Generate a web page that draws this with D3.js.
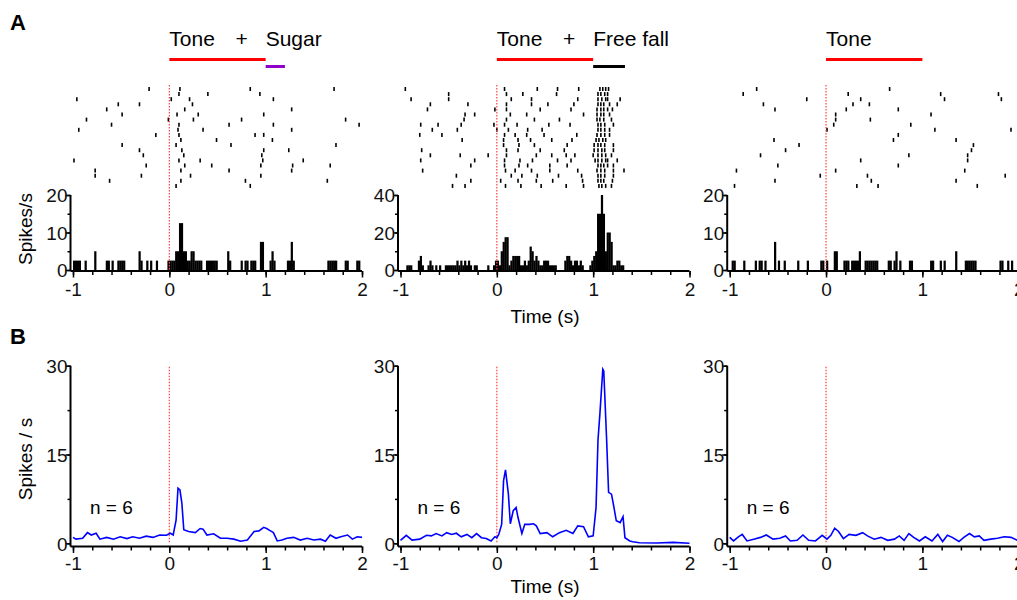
<!DOCTYPE html>
<html>
<head>
<meta charset="utf-8">
<script src="https://cdn.jsdelivr.net/npm/d3@7"></script>
<style>
  body { margin: 0; background: #fff; }
  text { font-family: Arial, "Liberation Sans", sans-serif; }
</style>
</head>
<body>
<div id="chart"></div>
<script>
// ---- data ----
var timeTicks = [-1, 0, 1, 2];
var histTicks = [[0, 10, 20], [0, 20, 40], [0, 10, 20]];
var psthTicks = [0, 15, 30];
var stimLabels = [["Tone", "+", "Sugar"], ["Tone", "+", "Free fall"], ["Tone"]];
var toneSpan = [0, 1];
var sugarSpan = [1, 1.2];
var fallSpan = [1, 1.33];
var nCells = [6, 6, 6];
var binWidth = 0.02; // s

// spike times (s) per trial, 20 trials each
var rasterSugar = [
  [-0.21, 0.11, 0.84, 1.71],
  [0.10, 0.40, 0.94],
  [-0.96, 0.02, 0.21, 1.08],
  [-0.53, -0.31, 0.24],
  [-0.65, 0.16, 1.27],
  [-0.49, 0.08, 0.30, 0.98],
  [-0.86, -0.01, 0.25, 0.75, 1.83],
  [-0.60, 0.10, 0.62, 1.08, 1.97],
  [-0.94, 0.09, 0.35, 1.27],
  [-0.14, 0.10, 0.89, 0.98],
  [0.12, 0.49, 1.07],
  [-0.49, 0.07, 0.64, 1.73],
  [-0.31, 0.13, 0.98, 1.24],
  [-0.27, 0.15, 0.96],
  [-0.99, 0.10, 0.32, 0.97, 1.39],
  [-0.24, 0.16, 0.44, 0.95, 1.28, 1.67],
  [-0.77, 0.12, 0.62, 1.27],
  [-0.77, -0.29, 0.22, 0.95],
  [-0.62, 0.12, 0.79, 1.64],
  [0.07, 0.84]
];
var rasterFall = [
  [-0.95, 0.08, 0.42, 0.63, 0.85, 1.07, 1.10, 1.13, 1.16],
  [-0.50, 0.10, 0.27, 0.62, 1.05, 1.08, 1.12, 1.15],
  [-0.89, -0.50, 0.15, 0.36, 0.84, 1.05, 1.09, 1.13, 1.15, 1.28],
  [-0.69, -0.30, 0.10, 0.36, 0.53, 0.80, 1.05, 1.08, 1.11, 1.17, 1.25],
  [-0.72, -0.02, 0.10, 0.45, 0.77, 1.04, 1.08, 1.11, 1.15, 1.20],
  [-0.33, -0.23, 0.14, 0.31, 0.90, 1.04, 1.08, 1.11, 1.17],
  [-0.34, 0.10, 0.39, 0.65, 1.04, 1.07, 1.11, 1.19],
  [-0.79, -0.61, -0.37, -0.03, 0.08, 0.21, 0.54, 0.76, 1.05, 1.08, 1.12, 1.21],
  [-0.67, -0.41, 0.00, 0.12, 0.32, 0.47, 1.05, 1.08, 1.12, 1.17],
  [-0.80, -0.57, 0.08, 0.19, 0.31, 0.49, 0.83, 1.04, 1.08, 1.12, 1.17],
  [-0.36, 0.07, 0.22, 0.35, 0.57, 0.78, 1.03, 1.06, 1.10, 1.13],
  [0.07, 0.23, 0.39, 0.73, 1.01, 1.05, 1.08, 1.12, 1.21],
  [-0.78, 0.10, 0.22, 0.45, 0.70, 1.01, 1.05, 1.09, 1.12, 1.21],
  [-0.69, -0.38, -0.09, 0.10, 0.41, 0.57, 0.72, 0.81, 1.00, 1.05, 1.09, 1.13, 1.19],
  [-0.79, -0.23, 0.08, 0.24, 0.37, 0.63, 0.77, 1.02, 1.05, 1.09, 1.13, 1.15, 1.25],
  [-0.27, 0.08, 0.23, 0.32, 0.55, 0.73, 1.05, 1.08, 1.11, 1.15, 1.21],
  [-0.77, 0.09, 0.19, 0.36, 0.55, 0.84, 1.04, 1.08, 1.12, 1.21, 1.32],
  [-0.42, 0.15, 0.26, 0.42, 0.64, 0.88, 1.05, 1.08, 1.12, 1.21],
  [-0.27, 0.04, 0.22, 0.41, 0.58, 0.89, 1.05, 1.08, 1.11, 1.20],
  [-0.46, -0.33, 0.09, 0.25, 0.46, 0.72, 0.90, 1.06, 1.09, 1.13, 1.19]
];
var rasterTone = [
  [-0.72, 0.66],
  [-0.86, 0.23, 1.19, 1.79],
  [-0.20, 0.36, 1.23, 1.82],
  [-0.65, 0.28, 0.45],
  [-0.53, 0.21, 0.75],
  [0.10, 1.09],
  [0.10, 0.46],
  [0.08, 0.88],
  [0.01, 1.13, 1.92],
  [0.75],
  [-0.54, 0.70, 1.35],
  [-0.28, 1.53],
  [-0.42, 1.51],
  [-0.68, 0.86, 1.47],
  [0.36, 1.47],
  [-0.50, 0.75],
  [-0.93, 0.10, 1.44],
  [-0.06, 0.43, 1.86],
  [-0.53, 0.47, 1.35],
  [-0.95, 0.32, 0.54, 1.57]
];

// PSTH, non-empty 20 ms bins: [bin start (s), spikes/s]
var histSugar = [
  [-1.00, 2.5], [-0.98, 2.5], [-0.96, 2.5], [-0.94, 2.5], [-0.88, 2.5], [-0.78, 5],
  [-0.66, 2.5], [-0.64, 2.5], [-0.60, 2.5], [-0.54, 2.5], [-0.52, 2.5], [-0.50, 2.5], [-0.48, 2.5],
  [-0.32, 5], [-0.30, 2.5], [-0.24, 2.5], [-0.20, 2.5], [-0.14, 2.5],
  [-0.02, 2.5], [0.00, 2.5], [0.02, 2.5], [0.04, 2.5], [0.06, 5], [0.08, 5], [0.10, 12.5], [0.12, 12.5],
  [0.14, 5], [0.16, 5], [0.18, 2.5], [0.20, 2.5], [0.22, 5], [0.24, 5], [0.26, 2.5],
  [0.28, 2.5], [0.30, 2.5], [0.32, 2.5], [0.38, 2.5], [0.40, 2.5], [0.42, 2.5], [0.44, 2.5], [0.46, 2.5], [0.48, 2.5],
  [0.60, 5], [0.62, 2.5], [0.74, 2.5], [0.78, 2.5], [0.80, 2.5], [0.84, 2.5], [0.86, 2.5], [0.88, 2.5],
  [0.94, 7.5], [0.96, 7.5], [1.04, 2.5], [1.06, 5], [1.08, 2.5],
  [1.22, 2.5], [1.24, 2.5], [1.26, 7.5], [1.28, 2.5],
  [1.64, 2.5], [1.66, 2.5], [1.68, 2.5], [1.70, 2.5], [1.72, 2.5], [1.82, 2.5], [1.84, 2.5], [1.94, 2.5], [1.96, 2.5]
];
var histFall = [
  [-0.94, 2.5], [-0.92, 2.5], [-0.90, 2.5], [-0.82, 5], [-0.80, 7.5], [-0.78, 2.5],
  [-0.72, 2.5], [-0.70, 5], [-0.68, 2.5], [-0.64, 2.5], [-0.60, 2.5],
  [-0.54, 2.5], [-0.52, 2.5], [-0.50, 2.5], [-0.48, 2.5], [-0.46, 2.5], [-0.44, 2.5],
  [-0.42, 5], [-0.40, 2.5], [-0.38, 5], [-0.36, 2.5], [-0.34, 5], [-0.32, 2.5], [-0.30, 5], [-0.28, 2.5],
  [-0.24, 2.5], [-0.22, 2.5], [-0.10, 2.5], [-0.04, 2.5], [-0.02, 5], [0.00, 5], [0.02, 2.5],
  [0.04, 10], [0.06, 15], [0.08, 17.5], [0.10, 17.5], [0.12, 2.5], [0.14, 5],
  [0.16, 7.5], [0.18, 7.5], [0.20, 7.5], [0.22, 7.5], [0.24, 2.5], [0.26, 2.5], [0.28, 5], [0.30, 2.5],
  [0.32, 5], [0.34, 12.5], [0.36, 10], [0.38, 5], [0.40, 7.5], [0.42, 5], [0.44, 2.5], [0.46, 2.5],
  [0.48, 5], [0.50, 5], [0.52, 5], [0.54, 2.5], [0.56, 2.5], [0.58, 2.5], [0.60, 2.5],
  [0.70, 5], [0.72, 7.5], [0.74, 7.5], [0.76, 5], [0.78, 2.5], [0.80, 5], [0.82, 5], [0.84, 2.5], [0.86, 5], [0.88, 2.5],
  [0.96, 2.5], [0.98, 5], [1.00, 7.5], [1.02, 10], [1.04, 30], [1.06, 30], [1.08, 40], [1.10, 30],
  [1.12, 10], [1.14, 20], [1.16, 20], [1.18, 15], [1.20, 2.5], [1.22, 2.5], [1.24, 5], [1.26, 5], [1.28, 2.5], [1.30, 2.5]
];
var histTone = [
  [-0.98, 2.5], [-0.96, 2.5], [-0.86, 2.5], [-0.74, 2.5], [-0.70, 2.5], [-0.68, 2.5], [-0.64, 2.5],
  [-0.54, 7.5], [-0.50, 2.5], [-0.44, 2.5], [-0.30, 2.5], [-0.20, 2.5],
  [-0.06, 2.5], [-0.04, 2.5], [0.00, 2.5], [0.08, 5], [0.10, 5],
  [0.18, 2.5], [0.20, 2.5], [0.22, 2.5], [0.26, 2.5], [0.28, 2.5], [0.30, 2.5], [0.32, 2.5], [0.34, 5],
  [0.40, 2.5], [0.42, 2.5], [0.44, 2.5], [0.46, 2.5], [0.48, 2.5], [0.50, 2.5], [0.52, 2.5],
  [0.64, 2.5], [0.66, 2.5], [0.70, 2.5], [0.72, 5], [0.76, 2.5], [0.86, 2.5], [0.88, 2.5],
  [1.08, 2.5], [1.10, 2.5], [1.18, 2.5], [1.22, 2.5], [1.34, 5],
  [1.44, 2.5], [1.46, 2.5], [1.48, 2.5], [1.50, 2.5], [1.52, 2.5], [1.54, 2.5],
  [1.80, 2.5], [1.82, 2.5], [1.88, 2.5], [1.92, 2.5]
];

// population PSTH (n = 6): [time (s), spikes/s]
var psthSugar = [
  [-1.00, 1.0], [-0.97, 0.7], [-0.90, 0.85], [-0.85, 1.8], [-0.81, 1.4], [-0.76, 1.7], [-0.72, 0.7],
  [-0.65, 1.0], [-0.58, 0.7], [-0.51, 1.1], [-0.44, 0.8], [-0.38, 1.1], [-0.31, 0.85], [-0.24, 1.2],
  [-0.17, 1.0], [-0.10, 1.4], [-0.03, 1.35], [0.01, 1.7], [0.04, 1.4], [0.07, 3.9], [0.09, 9.3],
  [0.11, 9.0], [0.13, 6.8], [0.15, 2.3], [0.20, 2.0], [0.27, 1.8], [0.32, 2.5], [0.35, 2.4],
  [0.39, 1.4], [0.46, 1.6], [0.53, 0.85], [0.60, 0.85], [0.67, 0.7], [0.74, 0.35], [0.81, 0.55],
  [0.88, 2.0], [0.93, 2.1], [0.98, 2.7], [1.01, 2.5], [1.05, 2.1], [1.08, 1.8], [1.12, 0.4],
  [1.17, 0.55], [1.22, 0.85], [1.29, 1.0], [1.36, 0.55], [1.43, 0.85], [1.50, 0.55], [1.57, 0.7],
  [1.62, 0.35], [1.67, 1.4], [1.73, 0.85], [1.78, 1.1], [1.85, 1.4], [1.90, 0.7], [1.95, 1.1], [2.00, 1.0]
];
var psthFall = [
  [-1.00, 0.5], [-0.94, 1.35], [-0.88, 0.55], [-0.80, 0.7], [-0.73, 1.35], [-0.68, 1.25], [-0.63, 1.65],
  [-0.57, 1.25], [-0.52, 1.8], [-0.47, 1.5], [-0.42, 1.7], [-0.37, 1.1], [-0.31, 1.5], [-0.26, 0.95],
  [-0.21, 1.65], [-0.16, 0.95], [-0.11, 0.8], [-0.06, 0.4], [-0.02, 1.1], [0.00, 0.95], [0.02, 1.5],
  [0.05, 3.2], [0.07, 10.6], [0.09, 12.4], [0.12, 8.3], [0.14, 3.3], [0.17, 5.5], [0.20, 6.05],
  [0.22, 4.35], [0.26, 1.65], [0.29, 3.2], [0.34, 3.2], [0.38, 3.3], [0.41, 2.95], [0.45, 1.65],
  [0.52, 1.8], [0.58, 1.1], [0.65, 1.8], [0.72, 2.2], [0.79, 1.65], [0.84, 2.95], [0.90, 2.8],
  [0.95, 1.1], [1.00, 1.25], [1.03, 6.05], [1.05, 17.4], [1.07, 21.9], [1.10, 29.4], [1.11, 29.1],
  [1.14, 17.4], [1.16, 8.6], [1.19, 8.3], [1.21, 6.6], [1.24, 3.8], [1.28, 3.5], [1.31, 4.5],
  [1.33, 0.95], [1.38, 0.4], [1.41, 0.25], [1.48, 0.1], [1.66, 0.05], [1.83, 0.15], [2.00, 0.0]
];
var psthTone = [
  [-1.00, 1.0], [-0.96, 0.4], [-0.91, 1.1], [-0.87, 1.5], [-0.82, 0.4], [-0.75, 0.7], [-0.68, 1.0],
  [-0.62, 1.4], [-0.55, 0.7], [-0.48, 0.85], [-0.42, 1.25], [-0.37, 0.4], [-0.30, 0.5], [-0.24, 1.4],
  [-0.18, 0.5], [-0.11, 0.4], [-0.04, 1.35], [0.01, 0.7], [0.05, 1.35], [0.09, 2.55], [0.13, 2.0],
  [0.18, 0.8], [0.24, 1.5], [0.31, 1.35], [0.38, 1.8], [0.43, 1.25], [0.50, 0.7], [0.57, 1.0],
  [0.64, 0.5], [0.71, 0.7], [0.76, 1.25], [0.81, 0.5], [0.86, 1.65], [0.91, 1.0], [0.97, 0.4],
  [1.03, 1.1], [1.10, 0.4], [1.16, 1.5], [1.21, 0.3], [1.26, 1.35], [1.31, 1.0], [1.38, 0.3],
  [1.43, 1.0], [1.49, 1.65], [1.54, 1.1], [1.59, 1.25], [1.64, 0.5], [1.71, 0.7], [1.78, 0.85],
  [1.85, 1.1], [1.92, 1.0], [1.99, 0.5]
];

var panels = [
  {raster: rasterSugar, hist: histSugar, psth: psthSugar, extra: sugarSpan, extraColor: "#9000c8"},
  {raster: rasterFall, hist: histFall, psth: psthFall, extra: fallSpan, extraColor: "#000"},
  {raster: rasterTone, hist: histTone, psth: psthTone, extra: null}
];

// ---- layout ----
var width = 1017, height = 600;
var left = [73, 400.5, 729.7], pw = 289;
var histTop = 195, histBase = 270;
var psthTop = 365.7, psthBase = 543.3;
var rasterTop = 87, rowStep = 5.1;
var font = "Arial, 'Liberation Sans', sans-serif";

var svg = d3.select("#chart").append("svg")
    .attr("width", width)
    .attr("height", height);

function minorTicks(lo, hi, step) {
  return d3.range(Math.round((hi - lo) / step) + 1).map(function(k) { return +(lo + k * step).toFixed(3); });
}

function drawAxes(g, x, y, yTicks, xLineY, labelY) {
  var ax = x.range()[0] - 2.5;
  var yMax = yTicks[yTicks.length - 1];
  var step = yTicks[1] - yTicks[0];

  // x axis: minor then major
  g.append("g")
      .attr("transform", "translate(0," + xLineY + ")")
      .call(d3.axisBottom(x).tickValues(minorTicks(-1, 2, 0.2)).tickSize(4).tickFormat(""))
      .call(function(s) { s.select(".domain").remove(); s.selectAll("line").attr("stroke-width", 1.5); });
  g.append("g")
      .attr("transform", "translate(0," + xLineY + ")")
      .call(d3.axisBottom(x).tickValues(timeTicks).tickSize(6.5).tickFormat(function(d) { return String(d); }))
      .attr("font-size", 19).attr("font-family", font)
      .call(function(s) {
        s.select(".domain").remove();
        s.selectAll("line").attr("stroke-width", 1.5);
        s.selectAll("text").attr("y", labelY).attr("dy", 0).attr("fill", "#111");
      });
  g.append("line")
      .attr("x1", ax).attr("x2", x.range()[1])
      .attr("y1", xLineY).attr("y2", xLineY)
      .attr("stroke", "#000").attr("stroke-width", 2);

  // y axis: minor then major
  g.append("g")
      .attr("transform", "translate(" + ax + ",0)")
      .call(d3.axisLeft(y).tickValues(minorTicks(0, yMax, step / 2)).tickSize(3).tickFormat(""))
      .call(function(s) { s.select(".domain").remove(); s.selectAll("line").attr("stroke-width", 1.5); });
  g.append("g")
      .attr("transform", "translate(" + ax + ",0)")
      .call(d3.axisLeft(y).tickValues(yTicks).tickSize(5).tickPadding(-2).tickFormat(function(d) { return String(d); }))
      .attr("font-size", 19).attr("font-family", font)
      .call(function(s) {
        s.select(".domain").remove();
        s.selectAll("line").attr("stroke-width", 1.5);
        s.selectAll("text").attr("dy", "0.36em").attr("fill", "#111");
      });
  g.append("line")
      .attr("x1", ax).attr("x2", ax)
      .attr("y1", y(yMax)).attr("y2", xLineY)
      .attr("stroke", "#000").attr("stroke-width", 2);
}

panels.forEach(function(p, i) {
  var g = svg.append("g");
  var x = d3.scaleLinear().domain([-1, 2]).range([left[i], left[i] + pw]);

  // stimulus labels and bars
  var labels = stimLabels[i];
  g.append("text").attr("x", x(0)).attr("y", 46).attr("font-size", 21).text(labels[0]);
  if (labels.length > 1) {
    g.append("text").attr("x", x(0.75)).attr("y", 46).attr("font-size", 21)
        .attr("text-anchor", "middle").text(labels[1]);
    g.append("text").attr("x", x(1)).attr("y", 46).attr("font-size", 21).text(labels[2]);
  }
  g.append("line")
      .attr("x1", x(toneSpan[0])).attr("x2", x(toneSpan[1]))
      .attr("y1", 59.5).attr("y2", 59.5)
      .attr("stroke", "#ff0000").attr("stroke-width", 3);
  if (p.extra) {
    g.append("line")
        .attr("x1", x(p.extra[0])).attr("x2", x(p.extra[1]))
        .attr("y1", 66.5).attr("y2", 66.5)
        .attr("stroke", p.extraColor).attr("stroke-width", 3);
  }

  // raster
  p.raster.forEach(function(trial, r) {
    g.selectAll(null)
        .data(trial)
      .enter().append("line")
        .attr("x1", function(d) { return x(d); })
        .attr("x2", function(d) { return x(d); })
        .attr("y1", rasterTop + r * rowStep)
        .attr("y2", rasterTop + r * rowStep + 4)
        .attr("stroke", "#000")
        .attr("stroke-width", 1.6);
  });

  // histogram
  var yH = d3.scaleLinear().domain([0, histTicks[i][2]]).range([histBase, histTop]);
  g.selectAll(".bar")
      .data(p.hist)
    .enter().append("rect")
      .attr("x", function(d) { return x(d[0]); })
      .attr("width", function(d) { return x(d[0] + binWidth) - x(d[0]) + 0.3; })
      .attr("y", function(d) { return yH(d[1]); })
      .attr("height", function(d) { return histBase - yH(d[1]); })
      .attr("fill", "#000");

  // stimulus onset, top
  g.append("line")
      .attr("x1", x(0)).attr("x2", x(0))
      .attr("y1", 85).attr("y2", histBase)
      .attr("stroke", "#ff4040").attr("stroke-width", 1.2)
      .attr("stroke-dasharray", "1.5,1.5");

  drawAxes(g, x, yH, histTicks[i], histBase + 1, 25);

  // population PSTH
  var yP = d3.scaleLinear().domain([0, 30]).range([psthBase, psthTop]);
  g.append("line")
      .attr("x1", x(0)).attr("x2", x(0))
      .attr("y1", psthTop + 1).attr("y2", psthBase)
      .attr("stroke", "#ff4040").attr("stroke-width", 1.2)
      .attr("stroke-dasharray", "1.5,1.5");

  g.append("path")
      .datum(p.psth)
      .attr("fill", "none")
      .attr("stroke", "#0000ff")
      .attr("stroke-width", 1.6)
      .attr("d", d3.line()
        .x(function(d) { return x(d[0]); })
        .y(function(d) { return yP(d[1]); }));

  drawAxes(g, x, yP, psthTicks, psthBase + 3.2, 23);

  g.append("text")
      .attr("x", x(-1) + 17).attr("y", 514)
      .attr("font-size", 19)
      .text("n = " + nCells[i]);
});

// axis titles and panel letters
var xMid = d3.scaleLinear().domain([-1, 2]).range([left[1], left[1] + pw]);
svg.append("text").attr("x", xMid(0.5)).attr("y", 323).attr("font-size", 19)
    .attr("text-anchor", "middle").text("Time (s)");
svg.append("text").attr("x", xMid(0.5)).attr("y", 593).attr("font-size", 19)
    .attr("text-anchor", "middle").text("Time (s)");

svg.append("text")
    .attr("transform", "translate(32,229) rotate(-90)")
    .attr("text-anchor", "middle").attr("font-size", 19)
    .text("Spikes/s");
svg.append("text")
    .attr("transform", "translate(32,459) rotate(-90)")
    .attr("text-anchor", "middle").attr("font-size", 19)
    .text("Spikes / s");

svg.append("text").attr("x", 10).attr("y", 30).attr("font-size", 22)
    .attr("font-weight", "bold").text("A");
svg.append("text").attr("x", 10).attr("y", 344).attr("font-size", 22)
    .attr("font-weight", "bold").text("B");
</script>
</body>
</html>
